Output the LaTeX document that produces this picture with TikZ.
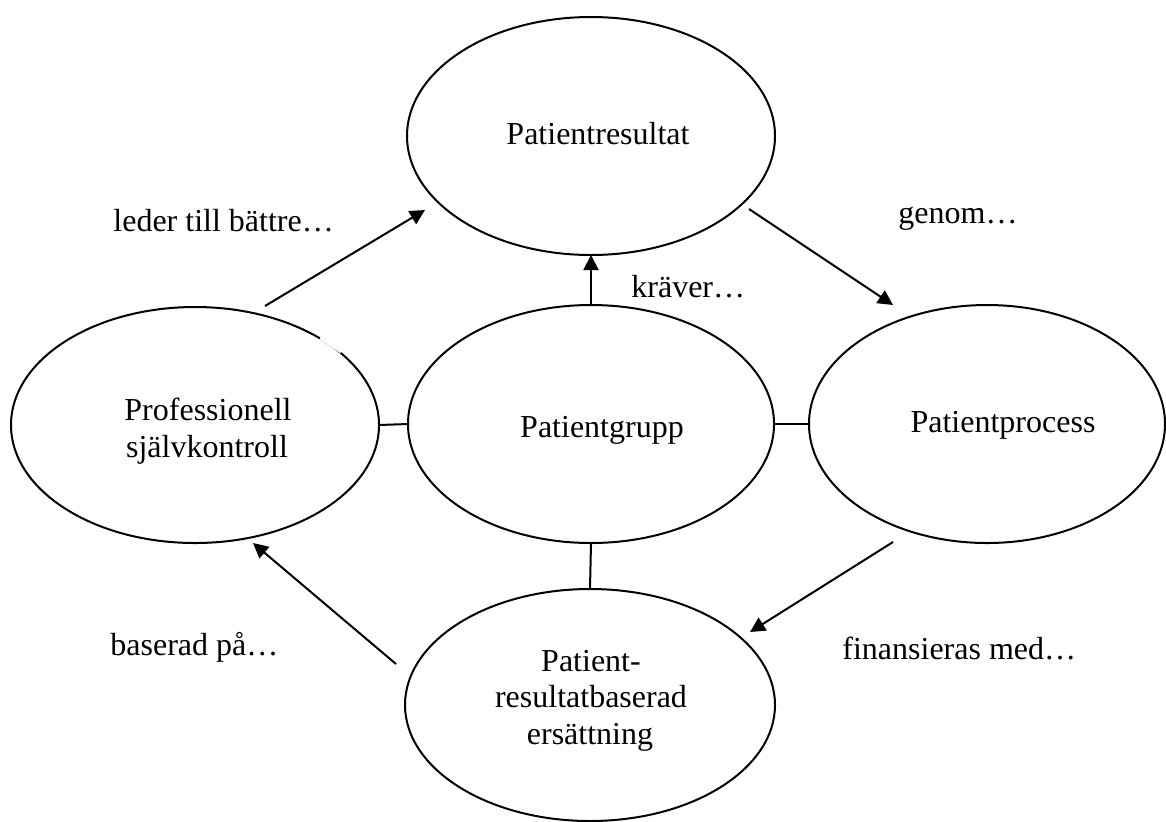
\documentclass[tikz,border=0pt]{standalone}
\usepackage{fontspec}
\setmainfont{Liberation Serif}
\usetikzlibrary{arrows.meta,shapes.geometric}
\begin{document}
\begin{tikzpicture}[x=0.5pt,y=-0.5pt,
  every node/.style={font=\fontsize{16pt}{18.5pt}\selectfont},
  oval/.style={draw,line width=1pt,ellipse,inner sep=0pt,outer sep=0pt},
  txt/.style={inner sep=0pt,anchor=base},
  lbl/.style={inner sep=0pt,anchor=base west},
  link/.style={line width=1pt},
  flow/.style={line width=1pt,-{Triangle[length=7.5pt,width=7.5pt]}}]
\useasboundingbox (0,0) rectangle (1166,821);

% the five concepts
\node[oval,minimum width=184pt,minimum height=119pt] (res)   at (591,136) {};
\node[oval,minimum width=184pt,minimum height=118pt] (prof)  at (195,425) {};
\node[oval,minimum width=183pt,minimum height=119pt] (grupp) at (591,424) {};
\node[oval,minimum width=178pt,minimum height=119pt] (proc)  at (987,424) {};
\node[oval,minimum width=185pt,minimum height=116pt] (ers)   at (590,705) {};

% small breaks in two outlines
\draw[white,line width=2pt] (320.5,337.5) -- (341.5,351.5);
\draw[white,line width=2pt] (1135,348) -- (1137.5,351.5);

% texts inside the ovals
\node[txt] (tres)   at (598,144) {Patientresultat};
\node[txt] (tprof1) at (208,420) {Professionell};
\node[txt] (tprof2) at (207,457) {självkontroll};
\node[txt] (tgrupp) at (602,437) {Patientgrupp};
\node[txt] (tproc)  at (1003,432) {Patientprocess};
\node[txt] (ters1)  at (591,671) {Patient-};
\node[txt] (ters2)  at (591,707) {resultatbaserad};
\node[txt] (ters3)  at (590,744) {ersättning};

% arrow labels
\node[lbl] (lleder)  at (113,231) {leder till bättre…};
\node[lbl] (lgenom)  at (898,223) {genom…};
\node[lbl] (lkraver) at (631,297) {kräver…};
\node[lbl] (lbas)    at (110,655) {baserad på…};
\node[lbl] (lfin)    at (842,659) {finansieras med…};

% arrow end points
\coordinate (a1) at (265,306);
\coordinate (a2) at (425,210);
\coordinate (b1) at (749,209);
\coordinate (b2) at (893,305);
\coordinate (c1) at (893,542);
\coordinate (c2) at (750,632);
\coordinate (d1) at (396,664);
\coordinate (d2) at (253,543);

% links between the ovals
\draw[link] (prof.east) -- (grupp.west);
\draw[link] (grupp.east) -- (proc.west);
\draw[link] (grupp.south) -- (ers.north);

% the cycle of arrows
\draw[flow] (grupp.north) -- (res.south);
\draw[flow] (a1) -- (a2);
\draw[flow] (b1) -- (b2);
\draw[flow] (c1) -- (c2);
\draw[flow] (d1) -- (d2);
\end{tikzpicture}
\end{document}
